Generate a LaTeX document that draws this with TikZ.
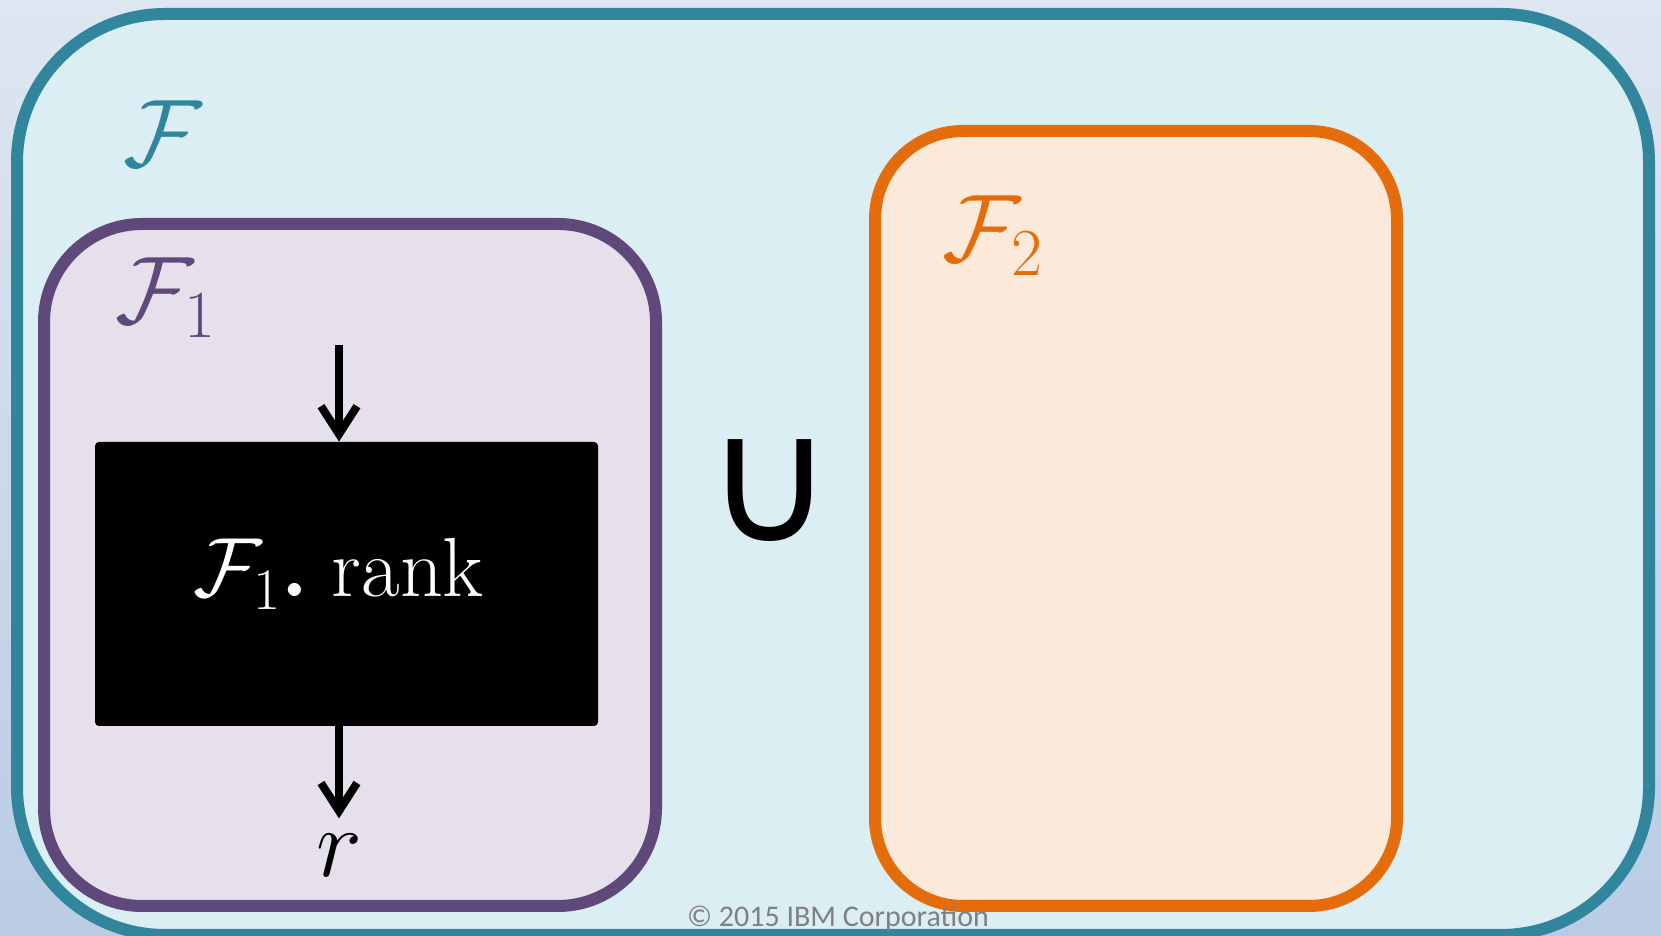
\documentclass[tikz,border=0pt]{standalone}
\usepackage{fix-cm}
\usepackage{amsmath, amssymb}
\usepackage{fontspec}
\usepackage{tikz}
\usepackage{xcolor}
\usetikzlibrary{arrows.meta, positioning, calc}
\newfontfamily\footfont{Carlito}
\newfontfamily\unionfont{DejaVu Sans}
\definecolor{bgTop}{HTML}{DEE6F1}
\definecolor{bgBottom}{HTML}{B9CCE4}
\definecolor{tealLine}{HTML}{31859C}
\definecolor{tealFill}{HTML}{DAEEF3}
\definecolor{purpleLine}{HTML}{5F497A}
\definecolor{purpleFill}{HTML}{E5E0EC}
\definecolor{orangeLine}{HTML}{E46C0A}
\definecolor{orangeFill}{HTML}{FDE9D9}
\tikzset{
    setBox/.style={line width=6pt, rounded corners=#1},
    setLabel/.style={inner sep=0pt, font=\fontsize{48}{52}\selectfont},
    rankBox/.style={fill=black, rounded corners=2pt, minimum width=251.5pt, minimum height=142pt},
    flowArrow/.style={-{Straight Barb[length=14pt, width=18pt]}, line width=4pt}
}

\begin{document}
\begin{tikzpicture}[x=0.5pt, y=0.5pt]
    \useasboundingbox (0,0) rectangle (1661,936);
    \fill[top color=bgTop, bottom color=bgBottom] (0,0) rectangle (1661,936);
    % the three families
    \draw[setBox=74pt, draw=tealLine, fill=tealFill] (17,1) rectangle (1649,922);
    \draw[setBox=49pt, draw=purpleLine, fill=purpleFill] (44,30) rectangle (656,712);
    \draw[setBox=44pt, draw=orangeLine, fill=orangeFill] (875,30) rectangle (1397,805);
    \node[setLabel, text=tealLine] (famAll) at (163,802) {$\mathcal{F}$};
    \node[setLabel, text=purpleLine] (famOne) at (166,638) {$\mathcal{F}_1$};
    \node[setLabel, text=orangeLine] (famTwo) at (993,700) {$\mathcal{F}_2$};
    % ranking box of F1
    \node[rankBox] (rank) at (346.5,352) {};
    \node[anchor=base, text=white, font=\fontsize{42}{46}\selectfont] (rankText) at (338.5,339) {$\mathcal{F}_1\boldsymbol{.}\;\mathrm{rank}$};
    \coordinate (inTop) at (339,591);
    \node[anchor=base, inner sep=8pt, font=\fontsize{49}{54}\selectfont] (rOut) at (339,59) {$r$};
    \draw[flowArrow] (inTop) -- (inTop |- rank.north);
    \draw[flowArrow] (rank.south -| inTop) -- (inTop |- rOut.north);
    \node[font=\unionfont\fontsize{88}{92}\selectfont] (union) at (770,445) {∪};
    \node[anchor=base, text=black!50, font=\footfont\fontsize{15}{18}\selectfont] (copy) at (838,9) {© 2015 IBM Corporation};
\end{tikzpicture}
\end{document}
